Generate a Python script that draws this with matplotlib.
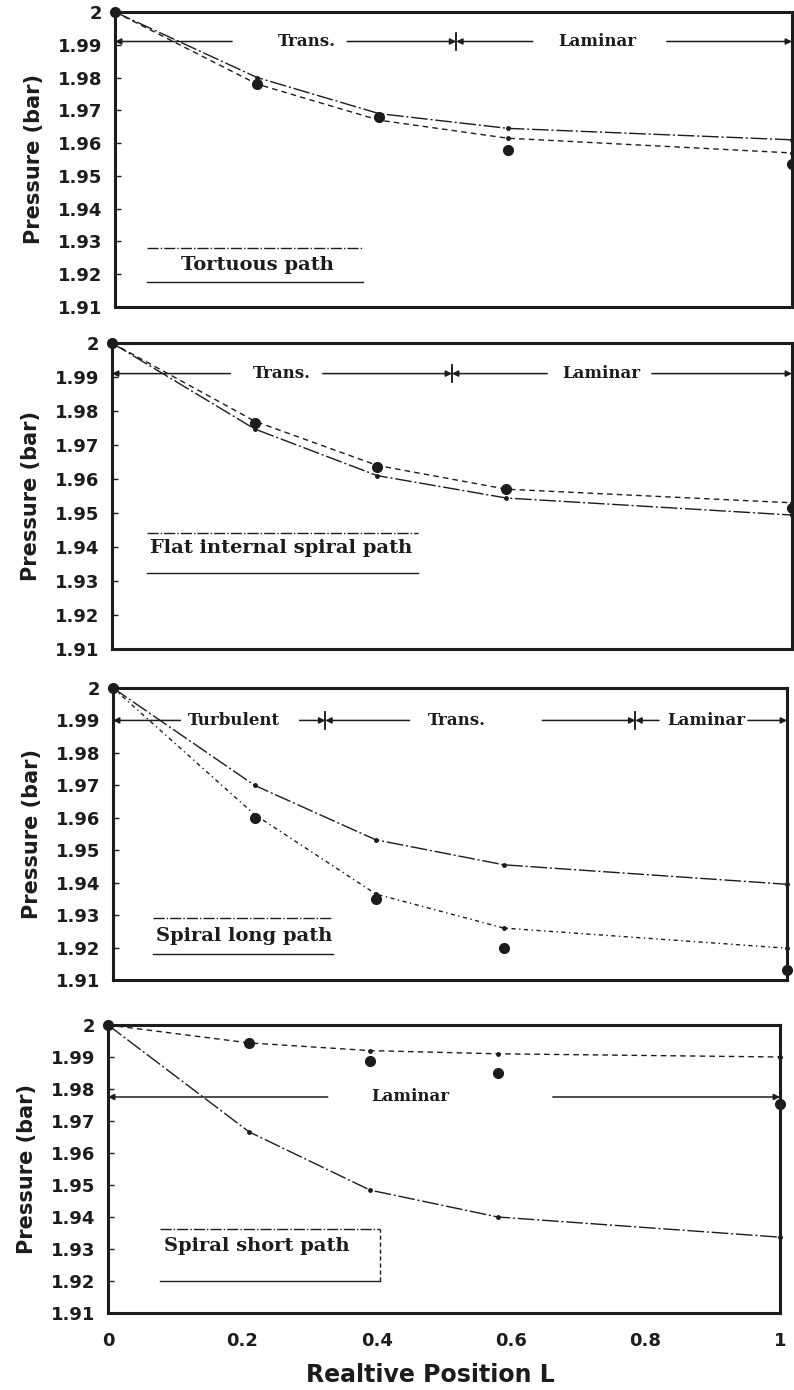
import matplotlib.pyplot as plt

# relative position along the path
x_pos = [0.0, 0.21, 0.39, 0.58, 1.0]

# tortuous path
tortuous_upper = [2.0, 1.980, 1.969, 1.9645, 1.961]
tortuous_lower = [2.0, 1.978, 1.967, 1.9615, 1.957]
tortuous_exp = [2.0, 1.978, 1.968, 1.958, 1.9535]

# flat internal spiral path
flat_upper = [2.0, 1.977, 1.964, 1.957, 1.953]
flat_lower = [2.0, 1.9747, 1.961, 1.9544, 1.9494]
flat_exp = [2.0, 1.9765, 1.9635, 1.957, 1.9515]

# spiral long path
long_upper = [2.0, 1.970, 1.9532, 1.9455, 1.9395]
long_lower = [2.0, 1.961, 1.9365, 1.926, 1.9198]
long_exp = [2.0, 1.960, 1.935, 1.920, 1.913]

# spiral short path
short_upper = [2.0, 1.9944, 1.992, 1.991, 1.990]
short_lower = [2.0, 1.9666, 1.9484, 1.940, 1.9337]
short_exp = [2.0, 1.9945, 1.9888, 1.985, 1.9753]

# flow regimes (label, start, end)
tortuous_regimes = [("Trans.", 0.0, 0.504), ("Laminar", 0.504, 1.0)]
flat_regimes = [("Trans.", 0.0, 0.50), ("Laminar", 0.50, 1.0)]
long_regimes = [("Turbulent", 0.0, 0.315), ("Trans.", 0.315, 0.775), ("Laminar", 0.775, 1.0)]
short_regimes = [("Laminar", 0.0, 1.0)]

y_ticks = [1.91, 1.92, 1.93, 1.94, 1.95, 1.96, 1.97, 1.98, 1.99, 2.0]
y_tick_labels = ["1.91", "1.92", "1.93", "1.94", "1.95", "1.96", "1.97", "1.98", "1.99", "2"]
x_ticks = [0, 0.2, 0.4, 0.6, 0.8, 1]
x_tick_labels = ["0", "0.2", "0.4", "0.6", "0.8", "1"]

INK = "#1c1c1c"
LONG_DASHDOT = (0, (12, 2, 1.5, 2))
DASHED = (0, (4, 3))
DOTDASH = (0, (3, 2.5, 1, 2.5))

W, H = 794, 1390

panels = [
    dict(box=(115, 12, 792, 307), upper=tortuous_upper, lower=tortuous_lower, exp=tortuous_exp,
         ls_upper=LONG_DASHDOT, ls_lower=DASHED, regimes=tortuous_regimes, regime_y=1.991,
         # text center, left-line end, right-line start per regime
         regime_text=[(0.284, 0.173, 0.343), (0.712, 0.617, 0.815)],
         name="Tortuous path", name_xy=(0.21, 1.9228), name_box=(0.047, 0.367, 1.928, 1.9177)),
    dict(box=(112, 343, 792, 649), upper=flat_upper, lower=flat_lower, exp=flat_exp,
         ls_upper=DASHED, ls_lower=LONG_DASHDOT, regimes=flat_regimes, regime_y=1.991,
         regime_text=[(0.25, 0.174, 0.31), (0.72, 0.64, 0.794)],
         name="Flat internal spiral path", name_xy=(0.249, 1.9397), name_box=(0.051, 0.45, 1.944, 1.9324)),
    dict(box=(113, 688, 787, 980), upper=long_upper, lower=long_lower, exp=long_exp,
         ls_upper=LONG_DASHDOT, ls_lower=DOTDASH, regimes=long_regimes, regime_y=1.990,
         regime_text=[(0.18, 0.10, 0.277), (0.51, 0.44, 0.637), (0.88, 0.81, 0.942)],
         name="Spiral long path", name_xy=(0.194, 1.9235), name_box=(0.06, 0.326, 1.929, 1.918)),
    dict(box=(108, 1025, 780, 1313), upper=short_upper, lower=short_lower, exp=short_exp,
         ls_upper=DASHED, ls_lower=LONG_DASHDOT, regimes=short_regimes, regime_y=1.9775,
         regime_text=[(0.45, 0.327, 0.662)],
         name="Spiral short path", name_xy=(0.222, 1.931), name_box=(0.077, 0.405, 1.9361, 1.920)),
]


def arrow(ax, x_from, x_to, y):
    ax.annotate("", xy=(x_to, y), xytext=(x_from, y),
                arrowprops=dict(arrowstyle="-|>", color=INK, lw=1.1, mutation_scale=9,
                                shrinkA=0, shrinkB=0),
                annotation_clip=False)


fig = plt.figure(figsize=(W / 100, H / 100), dpi=100)

for i, p in enumerate(panels):
    l, t, r, b = p["box"]
    ax = fig.add_axes([l / W, 1 - b / H, (r - l) / W, (b - t) / H])

    ax.plot(x_pos, p["upper"], color=INK, lw=1.0, ls=p["ls_upper"], marker="o", ms=2.5, clip_on=False)
    ax.plot(x_pos, p["lower"], color=INK, lw=1.0, ls=p["ls_lower"], marker="o", ms=2.5, clip_on=False)
    ax.plot(x_pos, p["exp"], "o", color=INK, ms=7, clip_on=False, zorder=5)

    # flow regime arrows
    y = p["regime_y"]
    for (label, xs, xe), (xt, gl, gr) in zip(p["regimes"], p["regime_text"]):
        arrow(ax, gl, xs, y)
        arrow(ax, gr, xe, y)
        ax.text(xt, y, label, ha="center", va="center", fontsize=12,
                family="DejaVu Serif", fontweight="bold", color=INK)
        for xb in (xs, xe):
            if 0 < xb < 1:
                ax.plot([xb, xb], [y - 0.0025, y + 0.0025], color=INK, lw=1.1)

    # path name box
    x0, x1, yt, yb = p["name_box"]
    ax.plot([x0, x1], [yt, yt], color=INK, lw=1.0, ls=(0, (8, 1.5, 1, 1.5)))
    ax.plot([x0, x1], [yb, yb], color=INK, lw=1.0)
    if i == 3:
        ax.plot([x1, x1], [yb, yt], color=INK, lw=1.0, ls=(0, (3, 2)))
    ax.text(p["name_xy"][0], p["name_xy"][1], p["name"], ha="center", va="center",
            fontsize=14, family="DejaVu Serif", fontweight="bold", color=INK)

    ax.set_xlim(0, 1)
    ax.set_ylim(1.91, 2.0)
    ax.set_yticks(y_ticks)
    ax.set_yticklabels(y_tick_labels, fontsize=13, fontweight="bold")
    ax.tick_params(axis="y", direction="in", length=4, width=1, pad=9, colors=INK)
    for s in ax.spines.values():
        s.set_linewidth(2.2)
        s.set_color(INK)

    ax.set_ylabel("Pressure (bar)", fontsize=15, fontweight="bold", color=INK)
    ax.yaxis.set_label_coords(-0.105, 0.5)

    if i == 3:
        ax.set_xticks(x_ticks)
        ax.set_xticklabels(x_tick_labels, fontsize=13, fontweight="bold")
        ax.tick_params(axis="x", length=0, pad=14, colors=INK)
        ax.set_xlabel("Realtive Position L", fontsize=17, fontweight="bold", color=INK)
        ax.xaxis.set_label_coords(0.48, -0.175)
    else:
        ax.set_xticks([])

plt.savefig("out.png", dpi=100)
